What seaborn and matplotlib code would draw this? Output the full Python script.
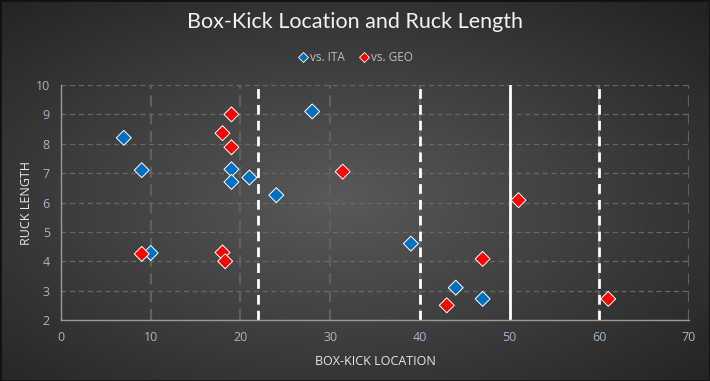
import numpy as np
import pandas as pd
import matplotlib
matplotlib.use("Agg")
import matplotlib.pyplot as plt
import seaborn as sns
from matplotlib.patches import Rectangle

# box-kick location (x) and ruck length (y)
ita_x = [7, 9, 10, 19, 19, 21, 24, 28, 39, 44, 47]
ita_y = [8.2, 7.1, 4.28, 7.13, 6.7, 6.85, 6.25, 9.1, 4.6, 3.1, 2.72]
geo_x = [19, 18, 19, 31.4, 51, 9, 18, 18.3, 47, 43, 61]
geo_y = [9.0, 8.36, 7.88, 7.05, 6.08, 4.25, 4.3, 4.0, 4.08, 2.5, 2.72]
series = ["vs. ITA", "vs. GEO"]
colors = ["#0070C0", "#FF0000"]
dashed_lines = [22, 40, 60]
solid_lines = [50]

df = pd.DataFrame({
    "x": ita_x + geo_x,
    "y": ita_y + geo_y,
    "opp": [series[0]] * len(ita_x) + [series[1]] * len(geo_x),
})

sns.set_style("dark")
plt.rcParams["font.family"] = ["Open Sans", "DejaVu Sans"]

fig = plt.figure(figsize=(7.1, 3.81), dpi=100)

# radial gradient background
bg = fig.add_axes([0, 0, 1, 1], zorder=-10)
gx, gy = np.meshgrid(np.linspace(-1, 1, 710), np.linspace(-1, 1, 381))
r = np.sqrt((gx + 0.05) ** 2 + (gy - 0.05) ** 2) / np.sqrt(2)
shade = 0.35 - 0.21 * r
bg.imshow(np.dstack([shade, shade, shade]), aspect="auto", extent=[0, 1, 0, 1])
bg.axis("off")
fig.patches.append(Rectangle((0, 0), 1, 1, transform=fig.transFigure,
                             fill=False, edgecolor="#111111", linewidth=2))

ax = fig.add_axes([0.0859, 0.1601, 0.8845, 0.6168])
ax.set_facecolor("none")

for v in dashed_lines:
    ax.axvline(v, color="white", lw=2, ls=(0, (3.5, 2.2)), zorder=2)
for v in solid_lines:
    ax.axvline(v, color="white", lw=2, zorder=2)

sns.scatterplot(data=df, x="x", y="y", hue="opp", palette=colors, marker="D",
                s=58, edgecolor="white", linewidth=0.7, ax=ax, zorder=3,
                legend=False)

ax.set_xlim(0, 70)
ax.set_ylim(2, 10)
ax.set_xticks(range(0, 71, 10))
ax.set_yticks(range(2, 11))
ax.grid(False)
ax.yaxis.grid(True, color="#686868", ls=(0, (4, 3)), lw=0.9)
ax.xaxis.grid(True, color="#606060", ls=(0, (5, 3)), lw=1.6)
for s in ["top", "right"]:
    ax.spines[s].set_visible(False)
for s in ["left", "bottom"]:
    ax.spines[s].set_visible(True)
    ax.spines[s].set_color("#9a9a9a")
    ax.spines[s].set_linewidth(1)
ax.tick_params(colors="#a8a8a8", labelsize=9, length=0, pad=8)
for lbl in ax.get_xticklabels() + ax.get_yticklabels():
    lbl.set_color("#a8b4c8")
ax.set_xlabel("BOX-KICK LOCATION", color="#e8e8e8", fontsize=9, labelpad=8)
ax.set_ylabel("RUCK LENGTH", color="#e8e8e8", fontsize=9, labelpad=2)

fig.text(0.5, 0.942, "Box-Kick Location and Ruck Length", ha="center", va="center",
         color="#f2f2f2", fontsize=15.5, family=["Lato", "DejaVu Sans"])

handles = [plt.Line2D([], [], marker="D", ls="", color=c, markeredgecolor="white",
                      markeredgewidth=0.6, markersize=5) for c in colors]
fig.legend(handles, series, loc="center", bbox_to_anchor=(0.5, 0.85), ncol=2,
           frameon=False, fontsize=8.5, labelcolor="#bfbfbf", handletextpad=0.05,
           columnspacing=1.2, handlelength=1.0)

fig.savefig("out.png", dpi=100)
